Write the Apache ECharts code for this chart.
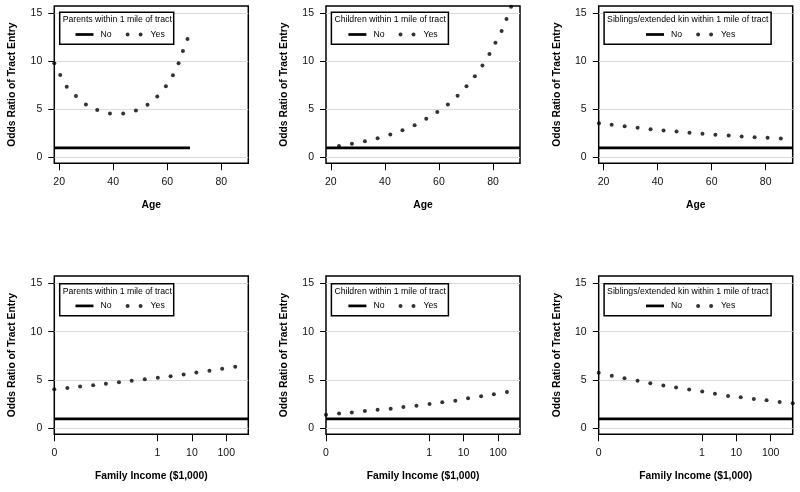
<!DOCTYPE html>
<html><head><meta charset="utf-8">
<script src="https://cdn.jsdelivr.net/npm/echarts@6/dist/echarts.min.js"></script>
<style>html,body{margin:0;padding:0;background:#fff}#c{width:800px;height:492px}</style>
</head><body><div id="c"></div>
<script>
// ---------- data ----------
const panelTitles = ['Parents within 1 mile of tract', 'Children within 1 mile of tract', 'Siblings/extended kin within 1 mile of tract'];
const legendNames = ['No', 'Yes'];
const yTicks = [0, 5, 10, 15];
const ageTicks = [20, 40, 60, 80];
const incomeTickPos = [-3, 0, 1, 2];          // log10 of income in $1,000
const incomeTickLabels = ['0', '1', '10', '100'];
const yAxisTitle = 'Odds Ratio of Tract Entry';
const ageTitle = 'Age';
const incomeTitle = 'Family Income ($1,000)';

// reference ("No") odds ratio and its x extents
const noValue = 1;
const noAgeParents = [18.2, 68.4];
const noAgeFull = [18.2, 90];
const noIncome = [-3, 2.64];

// Age panels ("Yes")
const ageParents = [18.2, 20.4, 22.8, 26.2, 29.9, 34.1, 38.8, 43.7, 48.4, 52.7, 56.3, 59.5, 62.1, 64.2, 65.8, 67.5];
const orParentsAge = [9.79, 8.58, 7.36, 6.39, 5.52, 4.93, 4.58, 4.58, 4.90, 5.49, 6.35, 7.40, 8.54, 9.79, 11.08, 12.33];
const ageChildren = [23.0, 27.8, 32.6, 37.3, 42.0, 46.5, 51.0, 55.3, 59.4, 63.3, 66.9, 70.2, 73.3, 76.1, 78.7, 80.9, 83.2, 85.0, 86.7];
const orChildrenAge = [1.21, 1.42, 1.70, 2.01, 2.39, 2.84, 3.36, 4.02, 4.72, 5.51, 6.42, 7.42, 8.46, 9.57, 10.75, 11.93, 13.15, 14.39, 15.68];
const ageSiblings = [18.3, 23.0, 27.8, 32.6, 37.4, 42.2, 47.0, 51.8, 56.6, 61.4, 66.3, 71.1, 75.9, 80.7, 85.6];
const orSiblingsAge = [3.57, 3.40, 3.26, 3.09, 2.95, 2.81, 2.71, 2.57, 2.46, 2.36, 2.29, 2.19, 2.12, 2.05, 1.98];

// Income panels ("Yes"), x = log10(income in $1,000)
const incomeLog10 = [-3.00, -2.62, -2.25, -1.87, -1.50, -1.12, -0.75, -0.37, 0.01, 0.38, 0.76, 1.13, 1.51, 1.88, 2.26, 2.64];
const orParentsInc = [4.05, 4.19, 4.33, 4.47, 4.61, 4.78, 4.92, 5.09, 5.23, 5.40, 5.58, 5.78, 5.96, 6.17, 6.37];
const orChildrenInc = [1.42, 1.56, 1.66, 1.80, 1.94, 2.04, 2.22, 2.36, 2.53, 2.70, 2.87, 3.12, 3.33, 3.53, 3.78];
const orSiblingsInc = [5.75, 5.44, 5.20, 4.92, 4.68, 4.43, 4.23, 4.02, 3.81, 3.60, 3.36, 3.22, 3.05, 2.91, 2.74, 2.60];

// ---------- layout ----------
const FONT = '"Liberation Sans", Arial, Helvetica, sans-serif';
const colLeft = [54.3, 326, 598.7];
const colWidth = 194;
const rowTop = [6, 276];
const rowHeight = [157.3, 158.3];
const boxOffsetTop = [5.8, 7.2];
const Y_MIN = -0.6, Y_MAX = 15.75;

const panels = [
  {row: 0, col: 0, kind: 'age', xs: ageParents, ys: orParentsAge, no: noAgeParents},
  {row: 0, col: 1, kind: 'age', xs: ageChildren, ys: orChildrenAge, no: noAgeFull},
  {row: 0, col: 2, kind: 'age', xs: ageSiblings, ys: orSiblingsAge, no: noAgeFull},
  {row: 1, col: 0, kind: 'inc', xs: incomeLog10, ys: orParentsInc, no: noIncome},
  {row: 1, col: 1, kind: 'inc', xs: incomeLog10, ys: orChildrenInc, no: noIncome},
  {row: 1, col: 2, kind: 'inc', xs: incomeLog10, ys: orSiblingsInc, no: noIncome}
];

const grid = [], xAxis = [], yAxis = [], series = [], title = [], legend = [];
// legend icons: 18 x 4 bounding boxes (degenerate sub-paths only extend the box)
const noIcon = 'path://M0,0.65H18V3.35H0ZM0,0L0,0M0,4L0,4';
const yesIcon = 'path://M0,2A2,2,0,1,1,4,2A2,2,0,1,1,0,2ZM13,2A2,2,0,1,1,17,2A2,2,0,1,1,13,2ZM18,2L18,2';

const textW = {0: 109.3, 1: 111.7, 2: 161.5};

panels.forEach((p, i) => {
  const left = colLeft[p.col], top = rowTop[p.row], h = rowHeight[p.row];
  grid.push({left: left, top: top, width: colWidth, height: h, show: true,
    borderColor: '#000', borderWidth: 1.5, backgroundColor: 'transparent', containLabel: false});
  const isAge = p.kind === 'age';
  xAxis.push({
    type: 'value', gridIndex: i, position: 'bottom',
    min: isAge ? 18.2 : -3, max: isAge ? 90 : 2.64,
    axisLine: {show: false, onZero: false},
    axisTick: {show: true, length: 7, customValues: isAge ? ageTicks : incomeTickPos, lineStyle: {color: '#000', width: 1}},
    axisLabel: {show: true, customValues: isAge ? ageTicks : incomeTickPos, margin: 13, fontSize: 10.5, color: '#111', fontFamily: FONT,
      formatter: isAge ? (v => String(v)) : (v => incomeTickLabels[incomeTickPos.indexOf(v)])},
    splitLine: {show: false},
    name: isAge ? ageTitle : incomeTitle, nameLocation: 'middle', nameGap: 37,
    nameTextStyle: {fontSize: 10.3, fontWeight: 'bold', color: '#000', fontFamily: FONT}
  });
  yAxis.push({
    type: 'value', gridIndex: i, position: 'left', min: Y_MIN, max: Y_MAX,
    axisLine: {show: false, onZero: false},
    axisTick: {show: true, length: 6, customValues: yTicks, lineStyle: {color: '#000', width: 1}},
    axisLabel: {show: true, customValues: yTicks, margin: 12, fontSize: 10.5, color: '#111', fontFamily: FONT},
    splitLine: {show: true, lineStyle: {color: '#dadada', width: 1}},
    name: yAxisTitle, nameLocation: 'middle', nameGap: 37,
    nameTextStyle: {fontSize: 10.3, fontWeight: 'bold', color: '#000', fontFamily: FONT}
  });
  series.push({
    name: legendNames[0], type: 'line', xAxisIndex: i, yAxisIndex: i,
    data: [[p.no[0], noValue], [p.no[1], noValue]],
    symbol: 'none', lineStyle: {color: '#000', width: 2.7}, itemStyle: {color: '#000'}, z: 3, silent: true
  });
  series.push({
    name: legendNames[1], type: 'scatter', xAxisIndex: i, yAxisIndex: i,
    data: p.xs.slice(0, p.ys.length).map((x, k) => [x, p.ys[k]]),
    symbol: 'circle', symbolSize: 4, itemStyle: {color: '#000'}, z: 4, silent: true
  });
  // legend box (title with border) + legend entries
  const boxLeft = left + 5.2, boxTop = top + boxOffsetTop[p.row];
  const tw = textW[p.col];
  title.push({
    text: panelTitles[p.col], left: boxLeft, top: boxTop, z: 5,
    padding: [3.5, 2.5, 20, 3.2],
    borderColor: '#000', borderWidth: 1.5, backgroundColor: '#fff',
    textStyle: {fontSize: 8.7, fontWeight: 'normal', color: '#000', fontFamily: FONT}
  });
  const boxCenter = boxLeft + (tw + 5.7) / 2;
  legend.push({
    left: boxCenter + 2 - 43.5, top: boxTop + 18.2, padding: 0, z: 20,
    orient: 'horizontal', itemWidth: 18, itemHeight: 4, itemGap: 14,
    selectedMode: false,
    textStyle: {fontSize: 8.7, color: '#000', fontFamily: FONT, padding: [0, 0, 0, 2]},
    data: [{name: legendNames[0], icon: noIcon}, {name: legendNames[1], icon: yesIcon}]
  });
});

const chart = echarts.init(document.getElementById('c'), null, {renderer: 'canvas'});
chart.setOption({animation: false, backgroundColor: '#fff', grid, xAxis, yAxis, series, title, legend});
</script>
</body></html>
